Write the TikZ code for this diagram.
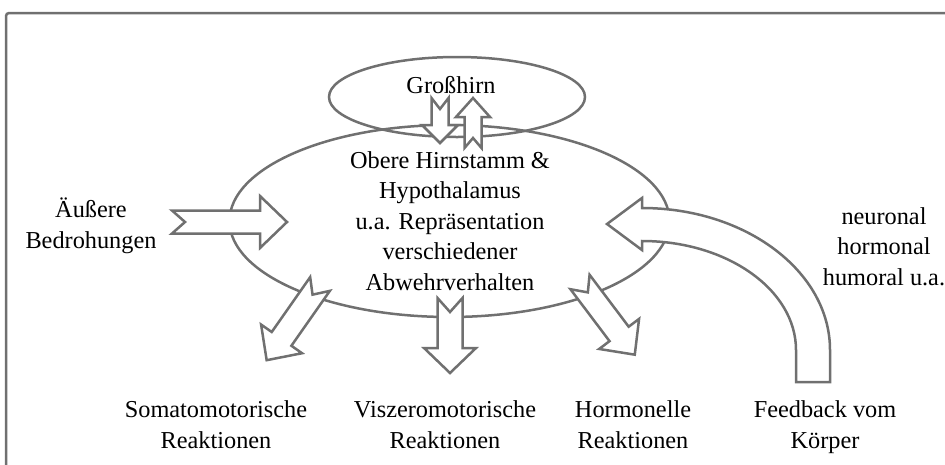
\documentclass[tikz,border=0pt]{standalone}
\usepackage{fontspec}
\setmainfont{Liberation Serif}
\usetikzlibrary{shapes.geometric}
\definecolor{lg}{RGB}{112,112,112}
\newcommand\blockarrow[7]{% #1 tail, #2 angle, #3 length, #4 shaft half, #5 head half, #6 head length, #7 notch
  \begin{scope}[shift={#1}, rotate=#2]
    \draw[barrow] (0,-#4) -- ({#3-#6},-#4) -- ({#3-#6},-#5) -- (#3,0) -- ({#3-#6},#5) -- ({#3-#6},#4) -- (0,#4) -- (#7,0) -- cycle;
  \end{scope}}
\begin{document}
\begin{tikzpicture}[x=1pt,y=-1pt,
  outl/.style={draw=lg, line width=2.5pt},
  barrow/.style={outl, fill=white, line join=miter},
  lbl/.style={font=\fontsize{24.3}{30.5}\selectfont, align=center, inner sep=0pt, anchor=base},
  oval/.style={ellipse, outl, inner sep=0pt}]
\useasboundingbox (0,0) rectangle (945,464);
\clip (0,0) rectangle (945,464);
\draw[outl, rounded corners=3pt] (6,13) rectangle (990,520);
% ellipses
\node[oval, minimum width=256pt, minimum height=80pt] (small) at (457,97) {};
\node[oval, minimum width=440pt, minimum height=192pt] (big) at (449.5,221) {};
% texts (anchor = baseline of last line)
\node[lbl] (gh) at (451,93) {Großhirn};
\node[lbl] (main) at (450,290) {Obere Hirnstamm \&\\Hypothalamus\\u.a. Repräsentation\\verschiedener\\Abwehrverhalten};
\node[lbl] (ext) at (91,248) {Äußere\\Bedrohungen};
\node[lbl] (sig) at (884,285) {neuronal\\hormonal\\humoral u.a.};
\node[lbl] (soma) at (216,448) {Somatomotorische\\Reaktionen};
\node[lbl] (visz) at (445,448) {Viszeromotorische\\Reaktionen};
\node[lbl] (horm) at (633,448) {Hormonelle\\Reaktionen};
\node[lbl] (fb) at (825,448) {Feedback vom\\Körper};
% block arrows
\blockarrow{(440,98)}{-90}{45}{8.5}{18}{18}{11}
\blockarrow{(473,148)}{90}{50}{8.5}{17}{19}{10}
\blockarrow{(172,222)}{0}{115}{11.5}{26}{27}{13}
\blockarrow{(320,284)}{235}{93}{12}{25}{26}{13}
\blockarrow{(450,298)}{-90}{75}{12.5}{26}{25}{14}
\blockarrow{(580,282)}{-53}{91}{12}{25}{26}{13}
% feedback arrow
\draw[barrow] (607,224) -- (642,198) -- (642,208)
  arc[start angle=-90, end angle=0, x radius=188, y radius=142]
  -- (830,382) -- (796,382) -- (796,350)
  arc[start angle=0, end angle=-90, x radius=154, y radius=109]
  -- (642,250) -- cycle;
\end{tikzpicture}
\end{document}
